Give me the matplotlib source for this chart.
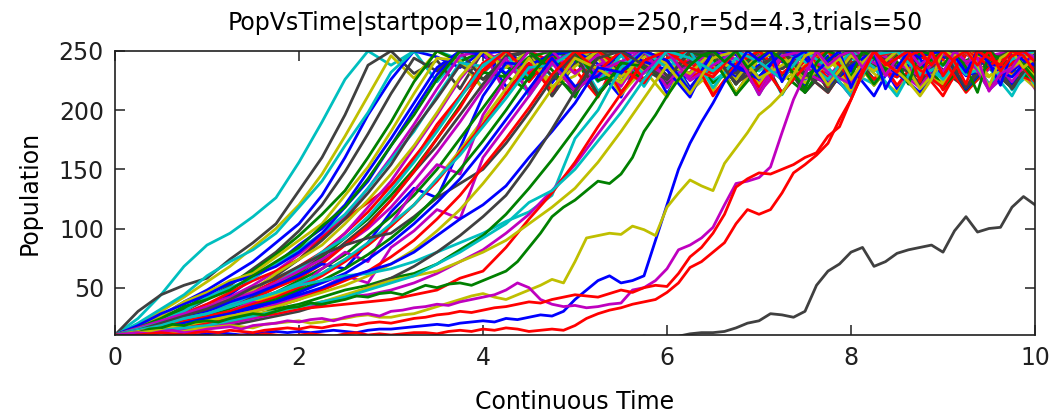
import numpy as np
import matplotlib
matplotlib.use("Agg")
import matplotlib.pyplot as plt

# sample times: every 0.25 for most trials, every 0.125 for the slow ones
t = np.arange(0, 10.01, 0.25)
t_fine = np.arange(0, 10.01, 0.125)

# population of each trial (rise, then the capped band near 250)
p01 = [10,24,44,68,86,96,110,126,156,190,226,250] + [238,250,224,246,231,250,215,240,250,228,236,250,219,244,233,250,241,226,250,236,212,247,250,230,238,250,222,243,250]
p02 = [10,30,44,52,58,74,88,104,132,160,196,238] + [250,231,242,218,250,237,226,250,244,213,236,250,229,241,250,222,246,235,250,217,239,250,232,224,248,250,236,219,245]
p03 = [10,18,30,42,55,68,84,100,120,146,178,212,246] + [227,250,240,233,250,214,238,247,250,225,232,250,242,216,250,236,228,250,244,221,237,250,230,246,250,218,240,233]
p04 = [10,16,26,38,48,60,72,88,104,128,160,196,226,250] + [245,236,250,220,229,250,241,234,211,250,238,226,250,247,223,236,250,231,215,244,250,237,228,250,219,242,250]
p05 = [10,20,32,44,60,72,82,96,118,140,170,198,232,250] + [250,243,219,237,250,228,245,250,216,233,241,250,225,238,250,213,246,250,232,222,250,240,229,247,250,217,235]
p06 = [10,14,22,30,40,52,66,80,98,120,148,180,214,244] + [233,250,226,244,250,212,239,250,231,247,220,250,236,228,250,243,215,237,250,226,245,250,234,219,250,238,247]
p07 = [10,15,24,32,44,54,64,78,94,112,132,160,190,224,250] + [241,250,229,216,248,250,235,223,250,239,231,250,214,244,250,227,238,250,221,246,233,250,218,240,250,229]
p08 = [10,13,18,26,34,44,58,70,86,100,120,148,176,206,236,250] + [246,231,250,215,240,250,228,236,250,219,244,233,250,241,226,250,236,212,247,250,230,238,250,222,243]
p09 = [10,17,26,38,46,56,62,76,90,104,128,152,182,214,244] + [242,218,250,237,226,250,244,213,236,250,229,241,250,222,246,235,250,217,239,250,232,224,248,250,236,219]
p10 = [10,12,20,28,36,42,52,64,78,94,110,134,160,188,218,246] + [250,214,238,247,250,225,232,250,242,216,250,236,228,250,244,221,237,250,230,246,250,218,240,233,250]
p11 = [10,14,20,28,36,46,56,64,74,92,108,122,136,158,188,212,232,250] + [250,241,234,211,250,238,226,250,247,223,236,250,231,215,244,250,237,228,250,219,242,250,234]
p12 = [10,16,22,30,42,50,58,70,82,96,112,134,158,182,212,240] + [237,250,228,245,250,216,233,241,250,225,238,250,213,246,250,232,222,250,240,229,247,250,217,235,250]
p13 = [10,12,16,22,28,36,48,60,74,90,108,130,154,184,210,238] + [226,244,250,212,239,250,231,247,220,250,236,228,250,243,215,237,250,226,245,250,234,219,250,238,247]
p14 = [10,18,28,36,44,54,60,68,80,96,118,140,170,200,230,250] + [248,250,235,223,250,239,231,250,214,244,250,227,238,250,221,246,233,250,218,240,250,229,236,250,245]
p15 = [10,13,16,22,30,38,46,56,68,80,96,114,136,160,184,212,240] + [250,224,246,231,250,215,240,250,228,236,250,219,244,233,250,241,226,250,236,212,247,250,230,238]
p16 = [10,16,24,34,40,48,60,72,84,102,118,142,170,196,226,250] + [250,237,226,250,244,213,236,250,229,241,250,222,246,235,250,217,239,250,232,224,248,250,236,219,245]
p17 = [10,11,15,20,26,34,44,52,64,78,96,118,140,168,196,226,250] + [240,233,250,214,238,247,250,225,232,250,242,216,250,236,228,250,244,221,237,250,230,246,250,218]
p18 = [10,15,20,26,34,40,48,62,74,86,104,124,146,170,198,228,250] + [236,250,220,229,250,241,234,211,250,238,226,250,247,223,236,250,231,215,244,250,237,228,250,219]
p19 = [10,12,17,24,30,38,44,52,62,76,92,108,128,150,176,204,232] + [228,245,250,216,233,241,250,225,238,250,213,246,250,232,222,250,240,229,247,250,217,235,250,242]
p20 = [10,14,18,22,28,36,44,54,66,80,92,110,132,156,182,210,238] + [250,212,239,250,231,247,220,250,236,228,250,243,215,237,250,226,245,250,234,219,250,238,247,224]
p21 = [10,12,14,20,26,32,42,50,60,72,88,104,124,148,170,196,222,246] + [250,229,216,248,250,235,223,250,239,231,250,214,244,250,227,238,250,221,246,233,250,218,240]
p22 = [10,16,22,28,34,40,46,54,64,74,86,100,118,140,164,190,218,244] + [215,240,250,228,236,250,219,244,233,250,241,226,250,236,212,247,250,230,238,250,222,243,250]
p23 = [10,12,18,22,28,34,40,50,58,70,86,102,124,148,176,202,234] + [250,231,242,218,250,237,226,250,244,213,236,250,229,241,250,222,246,235,250,217,239,250,232,224]
p24 = [10,13,18,24,30,38,44,52,60,70,66,88,114,134,126,168,212,240] + [238,247,250,225,232,250,242,216,250,236,228,250,244,221,237,250,230,246,250,218,240,233,250]
p25 = [10,14,18,22,28,32,38,46,56,66,78,94,110,128,150,176,202,228,250] + [234,211,250,238,226,250,247,223,236,250,231,215,244,250,237,228,250,219,242,250,234,226]
p26 = [10,12,16,20,24,30,38,44,52,62,74,86,102,120,142,166,192,218,244] + [219,237,250,228,245,250,216,233,241,250,225,238,250,213,246,250,232,222,250,240,229,247]
p27 = [10,11,14,18,24,30,38,34,50,66,80,72,104,132,154,146,196,226,250] + [250,231,247,220,250,236,228,250,243,215,237,250,226,245,250,234,219,250,238,247,224,250]
p28 = [10,13,17,22,26,30,36,42,50,60,72,86,102,120,140,164,188,214,240] + [216,248,250,235,223,250,239,231,250,214,244,250,227,238,250,221,246,233,250,218,240,250]
p29 = [10,15,20,24,28,34,40,46,54,62,74,88,104,120,142,162,186,210,236] + [238,250,224,246,231,250,215,240,250,228,236,250,219,244,233,250,241,226,250,236,212,247]
p30 = [10,14,20,26,32,40,50,58,68,78,86,92,96,110,126,138,150,172,198,226,248] + [213,236,250,229,241,250,222,246,235,250,217,239,250,232,224,248,250,236,219,245]
p31 = [10,12,15,20,24,28,34,40,48,56,66,78,92,108,128,150,174,200,228,250] + [250,225,232,250,242,216,250,236,228,250,244,221,237,250,230,246,250,218,240,233,250]
p32 = [10,13,16,18,22,26,32,38,46,54,62,74,88,104,122,142,166,192,218,244] + [220,229,250,241,234,211,250,238,226,250,247,223,236,250,231,215,244,250,237,228,250]
p33 = [10,11,14,18,22,26,30,36,42,50,60,54,84,98,116,108,160,186,212,240] + [216,233,241,250,225,238,250,213,246,250,232,222,250,240,229,247,250,217,235,250,242]
p34 = [10,12,14,18,20,24,30,34,40,48,56,64,76,90,108,128,152,176,202,230,250] + [233,250,226,244,250,212,239,250,231,247,220,250,236,228,250,243,215,237,250,226]
p35 = [10,12,16,18,22,26,30,34,40,46,52,60,70,82,98,116,138,162,190,218,244] + [235,223,250,239,231,250,214,244,250,227,238,250,221,246,233,250,218,240,250,229]
p36 = [10,14,18,24,28,34,40,46,52,56,60,62,66,72,80,88,96,106,114,128,176,200,236,250] + [236,250,219,244,233,250,241,226,250,236,212,247,250,230,238,250,222]
p37 = [10,12,14,16,18,22,26,32,36,42,48,52,58,62,70,82,94,112,134,158,184,212,240] + [237,226,250,244,213,236,250,229,241,250,222,246,235,250,217,239,250,232]
p38 = [10,13,16,20,24,28,34,38,44,50,58,64,70,80,94,108,120,136,160,182,206,236] + [232,250,242,216,250,236,228,250,244,221,237,250,230,246,250,218,240,233,250]
p39 = [10,11,12,14,16,18,22,26,30,36,42,50,58,68,80,94,110,128,154,184,216,244] + [250,238,226,250,247,223,236,250,231,215,244,250,237,228,250,219,242,250,234]
p40 = [10,12,14,14,16,20,24,28,32,38,42,44,48,54,62,72,82,96,112,132,154,180,206,232,250] + [225,238,250,213,246,250,232,222,250,240,229,247,250,217,235,250]
p41 = [10,12,15,18,20,22,26,28,32,34,36,38,40,44,48,58,64,84,108,130,156,186,214,242] + [250,236,228,250,243,215,237,250,226,245,250,234,219,250,238,247,224]
p42 = [10,13,16,18,22,26,28,30,34,38,44,50,56,60,64,72,80,90,104,118,134,156,182,210,238] + [214,244,250,227,238,250,221,246,233,250,218,240,250,229,236,250]
p43 = [10,12,14,16,18,22,26,30,34,38,42,48,54,60,70,80,92,104,122,132,150,174,198,226,250] + [244,233,250,241,226,250,236,212,247,250,230,238,250,222,243,250]

# the slow trials, sampled every 0.125
p44 = [10, 11,12,15,16,19,18,21,22, 21,24,26,28,27,30,33,34, 37,36,38,40,43,42,45,46,
       44,48,52,50,53,54,52,56, 60,64,72,84,96,110,118,124, 132,140,138,146,160,182,196,212,
       226,238,246,250,241,250,236,244, 250,243,231,218,240,250,246,228, 250,244,235,241,222,250,247,238,
       250,236,215,247,244,250,238,226]
p45 = [10, 11,10,10,9,10,11,10,11, 12,11,10,11,12,13,12,13, 12,13,14,13,12,14,15,15,
       16,17,18,19,18,20,21,22, 21,24,23,25,27,26,30,40, 48,56,60,54,56,60,90,120,
       150,172,190,206,224,236,250,242, 250,224,244,250,232,242,250,219, 240,250,218,236,250,244,226,250,
       246,232,250,240,221,250,242,238]
p46 = [10, 11,12,13,14,12,13,15,16, 17,18,17,16,19,20,21,22, 20,21,23,24,26,27,25,25,
       27,28,31,34,37,40,43,45, 42,40,44,48,52,57,54,72, 92,94,96,95,102,99,94,118,
       130,141,136,132,155,168,181,196, 204,214,230,246,250,236,244,226, 240,250,238,233,224,212,226,250,
       246,250,238,220,244,250,236,244]
p47 = [10, 11,12,11,13,14,12,13,15, 16,17,15,18,19,20,22,21, 23,24,22,25,27,28,26,30,
       31,33,34,36,35,38,40,42, 44,48,54,50,40,36,34,35, 33,34,36,37,48,50,56,66,
       82,86,92,101,120,138,140,143, 152,181,209,230,250,238,246,250, 236,250,229,244,250,238,246,232,
       250,241,244,216,231,236,250,244]
p48 = [10, 9,10,11,12,11,10,12,13, 12,14,13,12,14,15,16,15, 17,16,18,19,18,20,21,20,
       22,24,25,27,28,30,29,31, 33,34,36,38,37,40,42,44, 43,42,45,48,46,50,52,51,
       62,76,84,96,112,135,142,147, 146,150,154,160,164,178,186,209, 232,250,240,232,246,250,238,250,
       241,222,250,244,238,250,246,232]
p49 = [10, 9,10,9,8,9,10,9,8, 9,8,10,9,11,10,9,10, 11,10,9,11,12,10,11,10,
       11,12,12,11,13,14,13,15, 14,16,15,13,14,15,14,18, 24,28,31,33,36,38,40,46,
       54,67,72,80,88,104,116,112, 116,130,147,154,162,172,192,209, 231,250,238,244,250,224,250,229,
       244,250,238,250,233,246,250,241]
p50 = [10, 9,9,8,8,7,8,7,7, 6,7,6,7,5,6,5,6, 5,4,5,4,4,5,4,4,
       3,4,3,3,4,3,5,5, 4,5,6,5,6,5,7,7, 6,7,8,7,8,9,8,9,
       9,11,12,12,13,16,20,22, 28,27,25,30,52,64,70,80, 84,68,72,79,82,84,86,80,
       98,110,97,100,101,118,127,120]

trials = [p01, p02, p03, p04, p05, p06, p07, p08, p09, p10,
          p11, p12, p13, p14, p15, p16, p17, p18, p19, p20,
          p21, p22, p23, p24, p25, p26, p27, p28, p29, p30,
          p31, p32, p33, p34, p35, p36, p37, p38, p39, p40,
          p41, p42, p43, p44, p45, p46, p47, p48, p49, p50]
line_codes = "ckybckgbymrckbrgmygckmrbgymrckgbmrycgbkmrycgbymrrk"

palette = {'r': '#ff0000', 'g': '#008000', 'b': '#0000ff', 'm': '#bf00bf',
           'c': '#00bfbf', 'y': '#bfbf00', 'k': '#404040'}

plt.rcParams['font.family'] = 'DejaVu Sans'

fig = plt.figure(figsize=(10.52, 4.17), dpi=100)
ax = fig.add_axes([115/1052, 1 - 335/417, 920/1052, 284/417])

for pop, code in zip(trials, line_codes):
    times = t if len(pop) == len(t) else t_fine
    ax.plot(times, pop, color=palette[code], lw=2.0)

ax.set_xlim(0, 10)
ax.set_ylim(10, 250)
ax.set_xticks([0, 2, 4, 6, 8, 10])
ax.set_yticks([50, 100, 150, 200, 250])
ax.tick_params(direction='in', top=True, right=True, length=7, width=1.1,
               labelsize=17, pad=8, colors='#202020')
for s in ax.spines.values():
    s.set_linewidth(1.2)
    s.set_color('#202020')

ax.set_title('PopVsTime|startpop=10,maxpop=250,r=5d=4.3,trials=50', fontsize=17, pad=15)
ax.set_xlabel('Continuous Time', fontsize=17, labelpad=14)
ax.set_ylabel('Population', fontsize=17, labelpad=12)

fig.savefig('out.png', dpi=100)
